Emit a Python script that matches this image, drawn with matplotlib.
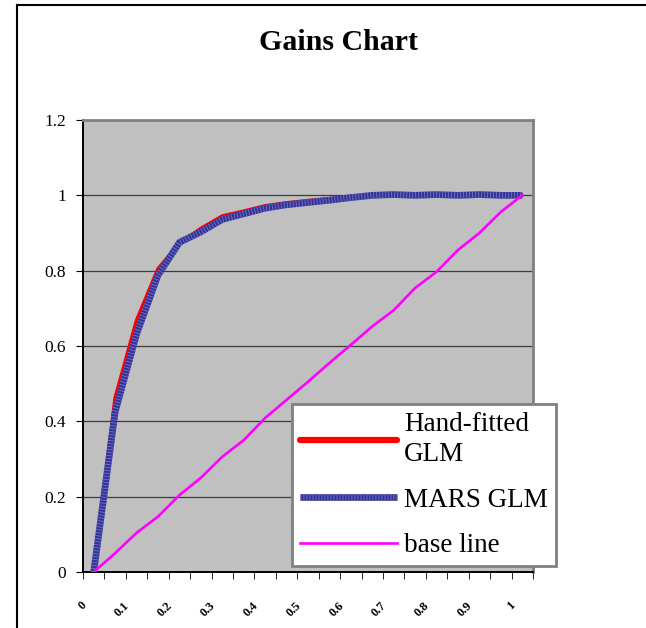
import matplotlib
matplotlib.use('Agg')
import matplotlib.pyplot as plt
import matplotlib.transforms as mtransforms
from matplotlib.lines import Line2D

plt.rcParams['font.family'] = ['Liberation Serif', 'DejaVu Serif']

# depth of file (categories 0 .. 1 in steps of 0.05)
depth = [0, 0.05, 0.1, 0.15, 0.2, 0.25, 0.3, 0.35, 0.4, 0.45, 0.5,
         0.55, 0.6, 0.65, 0.7, 0.75, 0.8, 0.85, 0.9, 0.95, 1.0]
x_labels = ['0', '0.1', '0.2', '0.3', '0.4', '0.5', '0.6', '0.7', '0.8', '0.9', '1']

hand_fitted = [0, 0.462, 0.668, 0.805, 0.872, 0.912, 0.945, 0.958, 0.972, 0.980, 0.986,
               0.991, 0.996, 1.0, 1.0, 1.0, 1.0, 1.0, 1.0, 1.0, 1.0]
mars_glm = [0, 0.425, 0.632, 0.788, 0.875, 0.903, 0.936, 0.951, 0.966, 0.975, 0.981,
            0.987, 0.994, 1.0, 1.002, 1.0, 1.002, 1.0, 1.002, 1.0, 1.0]
base_line = [0, 0.05, 0.104, 0.147, 0.204, 0.25, 0.306, 0.35, 0.409, 0.457, 0.505,
             0.555, 0.603, 0.652, 0.695, 0.754, 0.797, 0.855, 0.9, 0.956, 1.0]

cats = list(range(len(depth)))

fig = plt.figure(figsize=(6.46, 6.28), dpi=100)
ax = fig.add_axes([83/646, 1-572/628, 450/646, 452/628])
ax.set_facecolor('#c0c0c0')

red, = ax.plot(cats, hand_fitted, color='#ff0000', lw=2.6, solid_capstyle='round', zorder=3)
blue, = ax.plot(cats, mars_glm, color='#333399', lw=4.8, solid_capstyle='butt', zorder=4)
blue_st, = ax.plot(cats, mars_glm, color='#7272c4', lw=4.8, dashes=(0.13, 0.32),
                   dash_capstyle='butt', zorder=5)
mag, = ax.plot(cats, base_line, color='#ff00ff', lw=1.9, zorder=6)

ax.set_xlim(-0.5, len(cats) - 0.5)
ax.set_ylim(0, 1.2)
ax.set_yticks([0, 0.2, 0.4, 0.6, 0.8, 1.0, 1.2])
ax.set_yticklabels(['0', '0.2', '0.4', '0.6', '0.8', '1', '1.2'], fontsize=12.5)
ax.grid(axis='y', color='#3c3c3c', lw=0.9)
ax.set_axisbelow(True)

ax.set_xticks(cats[::2])
ax.set_xticklabels(x_labels, fontsize=9, rotation=45, ha='right', va='center',
                   rotation_mode='anchor', fontweight='bold')
ax.set_xticks([c - 0.5 for c in cats] + [cats[-1] + 0.5], minor=True)
ax.tick_params(axis='x', which='major', length=0, pad=23)
ax.tick_params(axis='x', which='minor', length=5, direction='out', color='black')
ax.tick_params(axis='y', length=5, direction='out', color='black', pad=7)
off = mtransforms.ScaledTranslation(-0.09, 0, fig.dpi_scale_trans)
for lab in ax.get_xticklabels():
    lab.set_transform(lab.get_transform() + off)

for s in ['left', 'bottom']:
    ax.spines[s].set_color('black')
    ax.spines[s].set_linewidth(1.4)
for s in ['top', 'right']:
    ax.spines[s].set_color('#808080')
    ax.spines[s].set_linewidth(2)

leg = ax.legend([red, (blue, blue_st), mag], ['Hand-fitted\nGLM', 'MARS GLM', 'base line'],
                loc='lower left', bbox_to_anchor=(0.464, 0.013), fontsize=19.5,
                frameon=True, fancybox=False, framealpha=1, edgecolor='#808080',
                handlelength=3.6, handletextpad=0.25, borderpad=0.3, labelspacing=0.75,
                borderaxespad=0)
leg.get_frame().set_linewidth(2)
leg.set_zorder(10)
for t in leg.get_texts():
    t.set_linespacing(1.3)
leg.legend_handles[0].set_linewidth(4.5)

fig.text(338/646, 1-42/628, 'Gains Chart', fontsize=21.5, fontweight='bold',
         ha='center', va='center')

fig.add_artist(Line2D([17/646, 17/646], [0, 1-5/628], color='black', lw=1.5))
fig.add_artist(Line2D([17/646, 1], [1-5/628, 1-5/628], color='black', lw=1.5))

fig.savefig('out.png', dpi=100)
